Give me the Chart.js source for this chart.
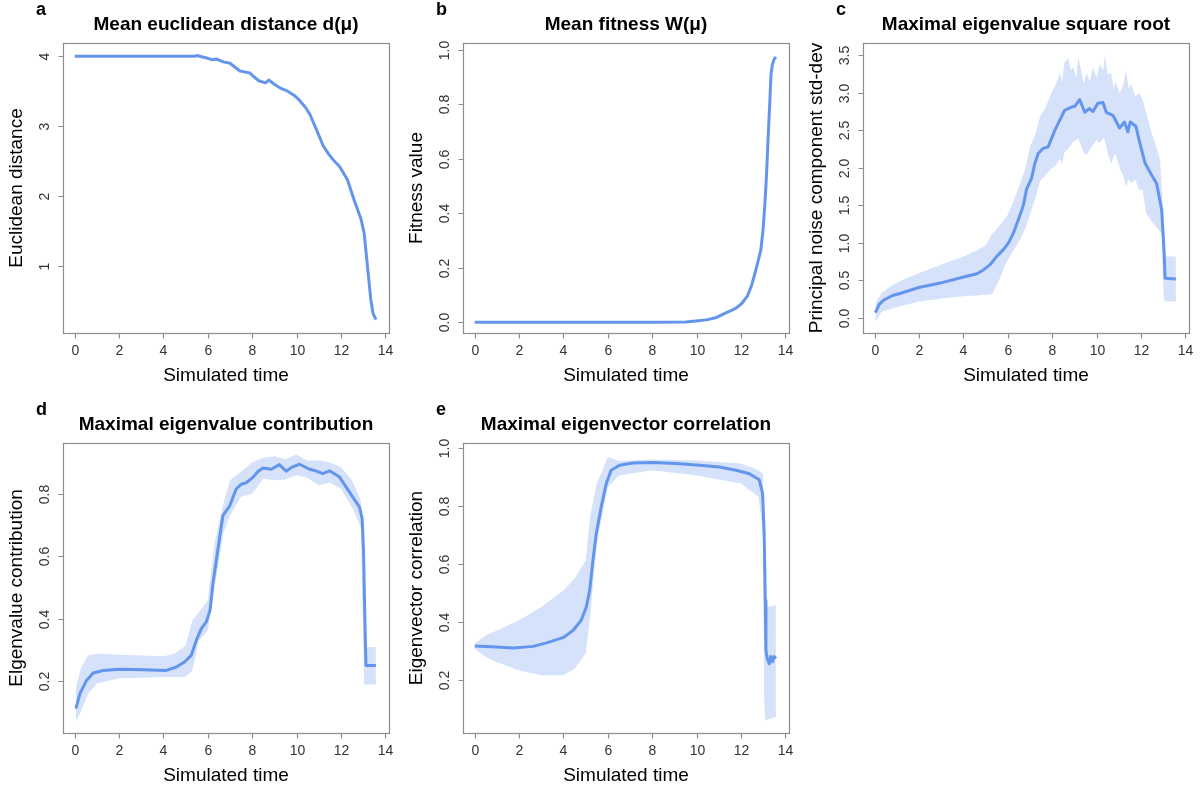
<!DOCTYPE html>
<html lang="en">
<head>
  <meta charset="UTF-8" />
  <title>Noise evolution panels</title>
  <script src="https://cdn.jsdelivr.net/npm/chart.js"></script>
  <style>
    body { margin: 0; background: #fff; width: 1202px; height: 789px; position: relative; overflow: hidden; }
    canvas { position: absolute; }
  </style>
</head>
<body>

  <canvas id="panelA" width="400" height="390" style="left:0;top:0"></canvas>
  <canvas id="panelB" width="400" height="390" style="left:400px;top:0"></canvas>
  <canvas id="panelC" width="402" height="390" style="left:800px;top:0"></canvas>
  <canvas id="panelD" width="400" height="389" style="left:0;top:400px"></canvas>
  <canvas id="panelE" width="400" height="389" style="left:400px;top:400px"></canvas>

  <script>
    // shared x axis
    const xTicks = [0, 2, 4, 6, 8, 10, 12, 14];

    // a: mean euclidean distance
    const aTime = [0, 1, 2, 3, 4, 5, 5.4, 5.5, 5.9, 6.2, 6.4, 6.7, 7.0, 7.2, 7.45, 7.6, 7.9, 8.1, 8.3, 8.6, 8.75, 9.0, 9.3, 9.6, 9.9, 10.1, 10.4, 10.6, 10.9, 11.2, 11.45, 11.65, 11.95, 12.3, 12.6, 12.9, 13.05, 13.2, 13.35, 13.45, 13.58];
    const aMean = [4.0, 4.0, 4.0, 4.0, 4.0, 4.0, 4.0, 4.01, 3.98, 3.95, 3.96, 3.92, 3.9, 3.85, 3.79, 3.78, 3.76, 3.7, 3.65, 3.62, 3.66, 3.6, 3.54, 3.5, 3.44, 3.38, 3.27, 3.17, 2.95, 2.72, 2.6, 2.52, 2.42, 2.23, 1.94, 1.68, 1.47, 0.99, 0.52, 0.32, 0.23];
    const aYTicks = [1, 2, 3, 4];
    const aYLabels = ['1', '2', '3', '4'];

    // b: mean fitness
    const bTime = [0, 2, 4, 6, 8, 9.5, 10.1, 10.5, 10.9, 11.3, 11.6, 11.8, 12.05, 12.3, 12.5, 12.7, 12.9, 13.0, 13.08, 13.15, 13.22, 13.3, 13.36, 13.42, 13.5, 13.58];
    const bMean = [0, 0, 0, 0, 0, 0.001, 0.006, 0.01, 0.018, 0.034, 0.045, 0.053, 0.07, 0.097, 0.14, 0.2, 0.265, 0.34, 0.43, 0.53, 0.66, 0.8, 0.91, 0.945, 0.965, 0.973];
    const bYTicks = [0, 0.2, 0.4, 0.6, 0.8, 1.0];
    const bYLabels = ['0.0', '0.2', '0.4', '0.6', '0.8', '1.0'];

    // c: maximal eigenvalue square root
    const cTime = [0.03, 0.2, 0.42, 0.8, 1.17, 2.03, 2.96, 4.0, 4.6, 4.9, 5.2, 5.5, 5.8, 6.03, 6.25, 6.55, 6.7, 6.85, 7.07, 7.22, 7.37, 7.6, 7.82, 8.12, 8.35, 8.57, 8.87, 9.02, 9.24, 9.47, 9.66, 9.84, 10.06, 10.29, 10.44, 10.74, 11.04, 11.26, 11.41, 11.52, 11.78, 11.93, 12.19, 12.49, 12.71, 12.94, 13.05, 13.09, 13.58];
    const cMean = [0.07, 0.18, 0.24, 0.3, 0.33, 0.41, 0.465, 0.545, 0.59, 0.64, 0.71, 0.82, 0.91, 1.0, 1.13, 1.37, 1.5, 1.72, 1.86, 2.06, 2.19, 2.26, 2.28, 2.5, 2.64, 2.77, 2.81, 2.82, 2.91, 2.74, 2.79, 2.75, 2.86, 2.87, 2.74, 2.7, 2.53, 2.61, 2.48, 2.61, 2.55, 2.36, 2.06, 1.9, 1.79, 1.44, 0.86, 0.53, 0.52];
    const cBandTime = [0.03, 0.3, 0.7, 1.2, 2, 3, 4, 4.6, 5.0, 5.3, 5.6, 5.95, 6.25, 6.55, 6.8, 7.0, 7.25, 7.45, 7.7, 7.9, 8.15, 8.35, 8.45, 8.55, 8.72, 8.85, 8.95, 9.1, 9.17, 9.3, 9.42, 9.55, 9.7, 9.84, 10.0, 10.15, 10.3, 10.37, 10.5, 10.66, 10.78, 10.85, 11.04, 11.2, 11.33, 11.45, 11.56, 11.75, 11.93, 12.08, 12.23, 12.45, 12.67, 12.87, 12.95, 13.02, 13.06, 13.58];
    const cUpper = [0.2, 0.33, 0.42, 0.5, 0.6, 0.71, 0.82, 0.9, 0.97, 1.12, 1.22, 1.35, 1.55, 1.79, 2.0, 2.28, 2.45, 2.68, 2.8, 2.95, 3.1, 3.26, 3.15, 3.4, 3.46, 3.3, 3.34, 3.2, 3.48, 3.3, 3.12, 3.26, 3.15, 3.34, 3.2, 3.38, 3.3, 3.5, 3.25, 3.26, 3.05, 3.15, 2.99, 3.1, 3.3, 3.05, 3.12, 2.95, 3.0, 2.9, 2.75, 2.5, 2.3, 2.1, 1.7, 1.2, 0.82, 0.82];
    const cLower = [-0.05, 0.08, 0.12, 0.16, 0.22, 0.26, 0.29, 0.3, 0.31, 0.32, 0.5, 0.75, 0.9, 1.04, 1.2, 1.38, 1.6, 1.82, 1.9, 1.97, 2.03, 2.12, 2.05, 2.2, 2.25, 2.3, 2.35, 2.37, 2.4, 2.3, 2.2, 2.17, 2.25, 2.3, 2.37, 2.33, 2.4, 2.37, 2.2, 2.05, 2.15, 2.19, 2.0, 1.9, 1.75, 1.85, 1.8, 1.84, 1.7, 1.71, 1.4, 1.3, 1.22, 1.15, 1.1, 0.35, 0.22, 0.22];
    const cYTicks = [0, 0.5, 1.0, 1.5, 2.0, 2.5, 3.0, 3.5];
    const cYLabels = ['0.0', '0.5', '1.0', '1.5', '2.0', '2.5', '3.0', '3.5'];

    // d: maximal eigenvalue contribution
    const dTime = [0.05, 0.23, 0.53, 0.83, 1.28, 2.03, 3.08, 4.13, 4.58, 4.95, 5.25, 5.48, 5.7, 5.93, 6.1, 6.23, 6.45, 6.68, 6.98, 7.28, 7.5, 7.73, 8.03, 8.25, 8.48, 8.86, 9.23, 9.53, 9.8, 10.14, 10.59, 10.9, 11.18, 11.49, 11.94, 12.24, 12.54, 12.84, 12.96, 13.02, 13.08, 13.13, 13.58];
    const dMean = [0.113, 0.16, 0.203, 0.227, 0.235, 0.239, 0.237, 0.235, 0.246, 0.262, 0.283, 0.331, 0.368, 0.39, 0.427, 0.512, 0.619, 0.73, 0.76, 0.815, 0.83, 0.835, 0.852, 0.87, 0.882, 0.878, 0.893, 0.872, 0.885, 0.894, 0.878, 0.872, 0.864, 0.873, 0.853, 0.821, 0.789, 0.757, 0.72, 0.619, 0.406, 0.251, 0.251];
    const dBandTime = [0.05, 0.3, 0.6, 1.0, 2.0, 3.0, 4.0, 4.5, 5.0, 5.3, 5.6, 6.0, 6.3, 6.7, 7.0, 7.5, 8.0, 8.5, 9.0, 9.5, 10.0, 10.5, 11.0, 11.5, 12.0, 12.5, 12.9, 13.05, 13.1, 13.58];
    const dUpper = [0.182, 0.246, 0.283, 0.288, 0.285, 0.283, 0.28, 0.288, 0.315, 0.395, 0.422, 0.459, 0.64, 0.768, 0.843, 0.87, 0.9, 0.915, 0.92, 0.91, 0.925, 0.905, 0.907, 0.9, 0.885, 0.843, 0.779, 0.35, 0.31, 0.31];
    const dLower = [0.07, 0.107, 0.16, 0.193, 0.21, 0.212, 0.214, 0.214, 0.214, 0.235, 0.331, 0.363, 0.5, 0.672, 0.73, 0.79, 0.8, 0.848, 0.843, 0.845, 0.859, 0.85, 0.827, 0.835, 0.816, 0.757, 0.693, 0.19, 0.19, 0.19];
    const dYTicks = [0.2, 0.4, 0.6, 0.8];
    const dYLabels = ['0.2', '0.4', '0.6', '0.8'];

    // e: maximal eigenvector correlation
    const eTime = [0, 0.98, 1.73, 2.63, 3.23, 3.98, 4.43, 4.8, 5.03, 5.18, 5.33, 5.48, 5.7, 5.93, 6.15, 6.53, 7.13, 8.03, 9.08, 10.13, 11.03, 11.78, 12.38, 12.83, 12.98, 13.05, 13.1, 13.13, 13.2, 13.28, 13.35, 13.43, 13.5, 13.58];
    const eMean = [0.316, 0.313, 0.309, 0.315, 0.327, 0.345, 0.37, 0.405, 0.451, 0.508, 0.612, 0.704, 0.796, 0.877, 0.923, 0.94, 0.948, 0.95, 0.946, 0.94, 0.934, 0.923, 0.911, 0.89, 0.842, 0.704, 0.474, 0.301, 0.27, 0.255, 0.28, 0.262, 0.28, 0.273];
    const eBandTime = [0, 0.5, 1, 2, 3, 4, 4.5, 5.0, 5.2, 5.5, 6.0, 6.5, 8.0, 10.0, 12.0, 12.8, 13.0, 13.05, 13.1, 13.58];
    const eUpper = [0.324, 0.353, 0.37, 0.405, 0.451, 0.508, 0.549, 0.612, 0.762, 0.877, 0.969, 0.955, 0.96, 0.957, 0.946, 0.923, 0.911, 0.474, 0.451, 0.457];
    const eLower = [0.307, 0.278, 0.261, 0.232, 0.215, 0.215, 0.238, 0.29, 0.416, 0.67, 0.865, 0.905, 0.923, 0.905, 0.877, 0.831, 0.704, 0.129, 0.06, 0.071];
    const eYTicks = [0.2, 0.4, 0.6, 0.8, 1.0];
    const eYLabels = ['0.2', '0.4', '0.6', '0.8', '1.0'];

    const lineBlue = '#6495ED';
    const bandBlue = 'rgba(100,149,237,0.27)';
    const font = '"Liberation Sans", Arial, Helvetica, sans-serif';

    function pts(xs, ys) {
      return xs.map((x, i) => ({ x: x, y: ys[i] }));
    }

    // R-style frame: grey box, outward ticks, rotated y labels, titles
    const rFrame = {
      id: 'rFrame',
      afterDraw(chart, args, o) {
        const ctx = chart.ctx;
        const a = chart.chartArea;
        const xs = chart.scales.x, ys = chart.scales.y;
        ctx.save();
        ctx.strokeStyle = '#8c8c8c';
        ctx.lineWidth = 1.2;
        ctx.strokeRect(a.left + 0.5, a.top + 0.5, a.right - a.left, a.bottom - a.top);

        ctx.fillStyle = '#333';
        ctx.font = '14px ' + font;
        ctx.textAlign = 'center';
        ctx.textBaseline = 'middle';
        ctx.beginPath();
        xTicks.forEach(v => {
          const px = Math.round(xs.getPixelForValue(v)) + 0.5;
          ctx.moveTo(px, a.bottom + 0.5);
          ctx.lineTo(px, a.bottom + 5.5);
          ctx.fillText(String(v), px, a.bottom + 18);
        });
        o.yTicks.forEach((v, i) => {
          const py = Math.round(ys.getPixelForValue(v)) + 0.5;
          ctx.moveTo(a.left + 0.5, py);
          ctx.lineTo(a.left - 4.5, py);
          ctx.save();
          ctx.translate(a.left - 18, py);
          ctx.rotate(-Math.PI / 2);
          ctx.fillText(o.yLabels[i], 0, 0);
          ctx.restore();
        });
        ctx.stroke();

        const cx = (a.left + a.right) / 2;
        const cy = (a.top + a.bottom) / 2;
        ctx.fillStyle = '#000';
        ctx.font = '19px ' + font;
        ctx.fillText('Simulated time', cx, a.bottom + 43);
        ctx.save();
        ctx.translate(a.left - 46, cy);
        ctx.rotate(-Math.PI / 2);
        ctx.fillText(o.yTitle, 0, 0);
        ctx.restore();

        ctx.font = 'bold 19px ' + font;
        ctx.fillText(o.title, cx, a.top - 18);
        ctx.font = 'bold 18px ' + font;
        ctx.textAlign = 'left';
        ctx.fillText(o.letter, a.left - 27, a.top - 33);
        ctx.restore();
      }
    };

    function makePanel(id, p) {
      const datasets = [{
        data: pts(p.time, p.mean),
        borderColor: lineBlue,
        borderWidth: 3,
        pointRadius: 0,
        fill: false,
        tension: 0,
        borderJoinStyle: 'round'
      }];
      if (p.bandTime) {
        datasets.push({
          data: pts(p.bandTime, p.upper),
          borderWidth: 0,
          pointRadius: 0,
          backgroundColor: bandBlue,
          fill: '+1',
          tension: 0
        });
        datasets.push({
          data: pts(p.bandTime, p.lower),
          borderWidth: 0,
          pointRadius: 0,
          fill: false,
          tension: 0
        });
      }
      return new Chart(document.getElementById(id), {
        type: 'line',
        data: { datasets: datasets },
        options: {
          responsive: false,
          animation: false,
          events: [],
          layout: { padding: p.pad },
          scales: {
            x: { type: 'linear', min: -0.53, max: 14.17, display: false },
            y: { type: 'linear', min: p.yMin, max: p.yMax, display: false }
          },
          plugins: {
            legend: { display: false },
            tooltip: { enabled: false },
            filler: { drawTime: 'beforeDatasetsDraw' },
            rFrame: p.frame
          }
        },
        plugins: [rFrame]
      });
    }

    makePanel('panelA', {
      time: aTime, mean: aMean, yMin: 0.04, yMax: 4.19,
      pad: { left: 63, right: 11, top: 43, bottom: 57 },
      frame: { letter: 'a', title: 'Mean euclidean distance d(\u03bc)', yTitle: 'Euclidean distance', yTicks: aYTicks, yLabels: aYLabels }
    });
    makePanel('panelB', {
      time: bTime, mean: bMean, yMin: -0.039, yMax: 1.024,
      pad: { left: 63, right: 11, top: 43, bottom: 57 },
      frame: { letter: 'b', title: 'Mean fitness W(\u03bc)', yTitle: 'Fitness value', yTicks: bYTicks, yLabels: bYLabels }
    });
    makePanel('panelC', {
      time: cTime, mean: cMean, bandTime: cBandTime, upper: cUpper, lower: cLower, yMin: -0.2, yMax: 3.663,
      pad: { left: 63, right: 13, top: 43, bottom: 57 },
      frame: { letter: 'c', title: 'Maximal eigenvalue square root', yTitle: 'Principal noise component std-dev', yTicks: cYTicks, yLabels: cYLabels }
    });
    makePanel('panelD', {
      time: dTime, mean: dMean, bandTime: dBandTime, upper: dUpper, lower: dLower, yMin: 0.035, yMax: 0.962,
      pad: { left: 63, right: 11, top: 43, bottom: 56 },
      frame: { letter: 'd', title: 'Maximal eigenvalue contribution', yTitle: 'Elgenvalue contribution', yTicks: dYTicks, yLabels: dYLabels }
    });
    makePanel('panelE', {
      time: eTime, mean: eMean, bandTime: eBandTime, upper: eUpper, lower: eLower, yMin: 0.016, yMax: 1.017,
      pad: { left: 63, right: 11, top: 43, bottom: 56 },
      frame: { letter: 'e', title: 'Maximal eigenvector correlation', yTitle: 'Eigenvector correlation', yTicks: eYTicks, yLabels: eYLabels }
    });
  </script>
</body>
</html>
